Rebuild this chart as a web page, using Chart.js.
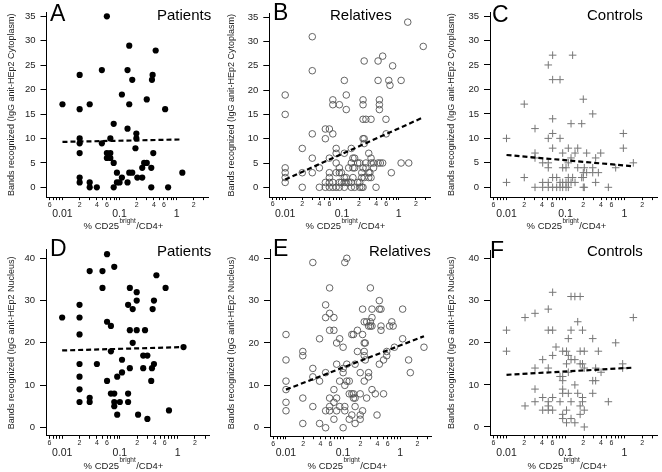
<!DOCTYPE html>
<html><head><meta charset="utf-8">
<script src="https://cdn.jsdelivr.net/npm/chart.js@4/dist/chart.umd.min.js"></script>
<style>
html,body{margin:0;padding:0;background:#fff;}
#wrap{position:relative;width:662px;height:472px;overflow:hidden;}
canvas{position:absolute;}
</style></head><body>
<div id="wrap">
<canvas id="cA" width="220" height="236" style="left:0;top:0"></canvas>
<canvas id="cB" width="220" height="236" style="left:220px;top:0"></canvas>
<canvas id="cC" width="222" height="236" style="left:440px;top:0"></canvas>
<canvas id="cD" width="220" height="236" style="left:0;top:236px"></canvas>
<canvas id="cE" width="220" height="236" style="left:220px;top:236px"></canvas>
<canvas id="cF" width="222" height="236" style="left:440px;top:236px"></canvas>
</div>
<script>
// ---------- DATA ----------
const patientsCytoplasm = [
 [0.01,17],[0.02,23],[0.02,16],[0.02,10],[0.02,9],[0.02,7],[0.02,2],[0.02,1],
 [0.03,17],[0.03,1],[0.03,0],[0.04,0],
 [0.049,24],[0.049,9],[0.06,35],[0.06,7],[0.06,6],[0.069,10],[0.069,7],[0.069,6],
 [0.079,13],[0.079,5],[0.079,0],[0.09,3],[0.09,1],[0.1,1],[0.11,19],[0.11,2],
 [0.138,24],[0.138,12],[0.138,1],[0.148,29],[0.148,17],[0.148,3],[0.167,22],[0.167,3],
 [0.197,11],[0.197,10],[0.19,8],[0.205,2],[0.25,4],[0.25,2],[0.27,5],[0.3,18],[0.3,5],
 [0.36,4],[0.36,0],[0.37,22],[0.38,23],[0.39,7],[0.43,28],[0.63,16],[0.71,0],[1.26,3]
];
const relativesCytoplasm = [
 [0.01,19],[0.01,15],[0.01,4],[0.01,3],[0.01,2],[0.01,1],
 [0.02,8],[0.02,3],[0.02,0],
 [0.03,31],[0.03,24],[0.03,11],[0.03,6],[0.03,3],
 [0.04,4],[0.04,0],
 [0.051,12],[0.051,10],[0.051,1],[0.051,0],
 [0.06,12],[0.06,6],[0.06,3],[0.06,2],[0.06,1],[0.06,0],
 [0.069,18],[0.069,17],[0.069,11],[0.069,1],[0.069,0],
 [0.079,8],[0.079,7],[0.079,5],[0.079,3],[0.079,0],
 [0.09,17],[0.09,4],[0.09,3],[0.09,1],[0.09,0],
 [0.098,1],[0.098,3],
 [0.11,22],[0.11,7],[0.11,2],[0.11,1],[0.11,0],
 [0.119,19],[0.119,16],[0.119,2],[0.119,1],
 [0.131,4],[0.131,1],
 [0.146,8],[0.146,5],[0.146,0],[0.146,1],
 [0.156,6],[0.156,4],[0.156,2],
 [0.167,6],[0.167,4],[0.167,0],
 [0.189,5],[0.189,1],
 [0.205,0],[0.205,1],[0.205,5],
 [0.223,0],[0.223,2],[0.223,3],
 [0.235,18],[0.235,17],[0.235,14],[0.235,10],[0.235,0],[0.235,4],
 [0.246,26],[0.246,10],[0.246,9],[0.246,2],
 [0.264,14],[0.264,4],[0.264,5],
 [0.296,7],[0.296,3],[0.296,2],
 [0.31,3],
 [0.325,14],[0.325,6],[0.325,2],[0.325,5],
 [0.36,5],[0.36,4],
 [0.398,0],
 [0.432,26],[0.432,22],[0.432,5],
 [0.456,18],[0.456,17],[0.456,16],
 [0.474,5],
 [0.521,27],[0.521,5],
 [0.595,14],[0.6,11],[0.667,22],[0.70,21],[0.74,3],[0.78,25],
 [1.10,22],[1.10,5],[1.44,34],[1.5,5],[2.7,29]
];
const controlsCytoplasm = [
 [0.01,10],[0.01,1],
 [0.020,17],[0.020,2],
 [0.0304,12],[0.0304,7],[0.0304,6],[0.0304,0],
 [0.041,5],[0.041,1],[0.041,0],
 [0.051,25],[0.051,10],[0.051,5],[0.051,4],[0.051,1],[0.051,0],
 [0.0605,27],[0.0605,22],[0.0605,14],[0.0605,11],[0.0605,8],[0.0605,2],[0.0605,0],
 [0.0708,2],[0.0708,0],
 [0.0807,22],[0.0807,10],[0.0807,1],[0.0807,0],
 [0.0895,7],[0.0895,4],[0.0895,1],[0.0895,0],
 [0.102,4],[0.102,1],[0.102,0],
 [0.1116,8],[0.1116,5],[0.1116,2],[0.1116,1],[0.1116,0],
 [0.124,13],[0.124,6],[0.124,1],
 [0.132,27],[0.132,2],
 [0.145,7],[0.145,1],
 [0.161,8],[0.161,4],
 [0.188,13],[0.188,2],
 [0.200,18],[0.200,2],[0.200,0],[0.200,3],
 [0.208,0],[0.208,4],
 [0.228,7],[0.228,3],
 [0.289,15],[0.289,4],[0.289,3],
 [0.324,6],[0.324,1],
 [0.360,3],[0.395,7],[0.532,0],[0.708,4],
 [0.955,11],[0.955,8],[1.41,5]
];
const patientsNucleus = [
 [0.01,26],
 [0.02,29],[0.02,26],[0.02,22],[0.02,15],[0.02,12],[0.02,9],[0.02,6],
 [0.03,37],[0.03,7],[0.03,6],
 [0.04,15],
 [0.05,37],[0.05,33],
 [0.06,41],[0.06,25],[0.06,11],
 [0.07,24],[0.07,18],[0.07,8],
 [0.08,38],[0.08,8],[0.08,6],[0.08,5],
 [0.09,12],[0.09,3],
 [0.1,6],
 [0.109,16],[0.109,13],
 [0.139,29],[0.139,8],[0.139,6],
 [0.149,33],[0.149,23],[0.149,14],
 [0.167,28],[0.167,20],
 [0.196,32],[0.196,30],[0.196,23],
 [0.207,3],
 [0.254,17],[0.254,14],
 [0.273,23],
 [0.30,17],[0.30,2],
 [0.35,11],[0.36,14],[0.37,28],[0.39,30],[0.39,15],
 [0.43,36],[0.62,33],[0.71,4],[1.27,19]
];
const relativesNucleus = [
 [0.01,22],[0.01,16],[0.01,11],[0.01,9],[0.01,6],[0.01,4],
 [0.0197,18],[0.0197,17],[0.0197,7],[0.0197,1],
 [0.0295,39],[0.0295,14],[0.0295,12],[0.0295,5],
 [0.0387,21],[0.0387,11],[0.0387,1],
 [0.0494,29],[0.0494,26],[0.0494,13],[0.0494,4],[0.0494,0],
 [0.058,33],[0.058,27],[0.058,23],[0.058,7],[0.058,5],[0.058,4],
 [0.069,26],[0.069,23],[0.069,9],[0.069,6],[0.069,2],
 [0.077,20],[0.077,15],[0.077,7],[0.077,4],
 [0.087,21],[0.087,11],[0.087,5],
 [0.1,19],[0.1,13],[0.1,0],[0.1,14],
 [0.107,39],[0.107,10],[0.107,5],[0.107,4],
 [0.116,40],[0.116,15],[0.116,11],
 [0.128,11],[0.128,8],[0.128,2],
 [0.142,22],[0.142,8],[0.142,3],
 [0.152,22],[0.152,7],[0.152,8],
 [0.162,15],[0.162,5],[0.162,1],[0.162,7],
 [0.178,23],[0.178,18],
 [0.199,13],[0.199,8],[0.199,2],[0.199,3],
 [0.219,22],[0.219,28],[0.219,4],
 [0.234,25],[0.234,20],[0.234,17],[0.234,11],[0.234,18],
 [0.244,20],[0.244,16],
 [0.258,7],[0.258,25],
 [0.279,24],[0.279,12],[0.279,13],
 [0.3,33],[0.3,25],[0.3,24],
 [0.32,28],[0.32,26],[0.32,24],[0.32,9],
 [0.366,8],[0.392,3],
 [0.43,30],[0.43,28],[0.43,15],
 [0.46,28],[0.46,23],[0.46,24],
 [0.51,16],[0.51,8],
 [0.58,17],[0.58,18],
 [0.65,24],[0.71,25],[0.75,24],[0.79,19],
 [1.1,28],[1.1,21],[1.4,16],[1.5,13],[2.6,19]
];
const controlsNucleus = [
 [0.01,23],[0.01,18],
 [0.0206,26],[0.0206,5],
 [0.0304,27],[0.0304,14],[0.0304,9],[0.0304,6],
 [0.041,16],[0.041,7],[0.041,4],
 [0.051,28],[0.051,23],[0.051,14],[0.051,6],[0.051,5],[0.051,4],
 [0.0605,32],[0.0605,23],[0.0605,17],[0.0605,7],[0.0605,4],
 [0.069,19],
 [0.0807,12],[0.0807,6],
 [0.0895,18],[0.0895,12],[0.0895,11],[0.0895,9],[0.0895,8],[0.0895,3],[0.0895,2],
 [0.104,18],[0.104,15],[0.104,4],[0.104,1],
 [0.1116,21],[0.1116,17],[0.1116,13],[0.1116,8],
 [0.124,31],[0.124,23],[0.124,16],[0.124,6],[0.124,2],
 [0.144,31],[0.144,16],[0.144,10],[0.144,1],
 [0.161,25],[0.161,8],
 [0.177,31],[0.177,18],[0.177,15],[0.177,5],[0.177,3],
 [0.194,23],[0.194,15],[0.194,6],[0.194,7],
 [0.208,18],[0.208,14],[0.208,0],[0.208,4],
 [0.289,21],[0.289,11],[0.289,8],
 [0.324,11],[0.324,14],
 [0.360,18],[0.40,13],[0.532,6],[0.708,20],
 [0.93,15],[0.93,14],[1.41,26]
];
// dashed regression lines (endpoints)
const trendA = [[0.01,9.3],[1.26,9.8]];
const trendB = [[0.01,1.6],[2.7,14.4]];
const trendC = [[0.01,6.6],[1.41,4.3]];
const trendD = [[0.01,18.2],[1.27,19.0]];
const trendE = [[0.01,9.0],[2.6,21.6]];
const trendF = [[0.01,12.4],[1.41,14.1]];

// ticks
const xTickValues = [0.006,0.007,0.008,0.009,0.01,0.02,0.03,0.04,0.05,0.06,0.07,0.08,0.09,
                     0.1,0.2,0.3,0.4,0.5,0.6,0.7,0.8,0.9,1,2,3];
const xTickLabels = ['6','','','','0.01','2','','4','','6','','','',
                     '0.1','2','','4','','6','','','','1','2',''];
const xMajorLabels = ['0.01','0.1','1'];
const yTicksCytoplasm = [0,5,10,15,20,25,30,35];
const yTicksNucleus = [0,10,20,30,40];
const yTitleCytoplasm = 'Bands recognized (IgG anit-HEp2 Cytoplasm)';
const yTitleNucleus = 'Bands recognized (IgG anit-HEp2 Nucleus)';
const xTitleParts = ['% CD25', 'bright', '/CD4+'];
const groupNames = ['Patients','Relatives','Controls'];
const panelLetters = ['A','B','C','D','E','F'];

// ---------- LAYOUT ----------
const FONT = '"Liberation Sans", Arial, Helvetica, sans-serif';
const X_MIN = 0.00525, X_MAX = 3.55;

const panels = [
 {id:'cA', w:220, h:236, area:{l:46.5,t:12.4,r:208,b:197.1}, ymax:35.8, data:patientsCytoplasm, trend:trendA, kind:0, yTicks:yTicksCytoplasm, yTitle:yTitleCytoplasm, letter:panelLetters[0], lx:50, ly:20.5, gx:157, gy:20, tx:123, ty:229},
 {id:'cB', w:220, h:236, area:{l:49.3,t:13.4,r:210,b:197}, ymax:35.8, data:relativesCytoplasm, trend:trendB, kind:1, yTicks:yTicksCytoplasm, yTitle:yTitleCytoplasm, letter:panelLetters[1], lx:53, ly:19.5, gx:110, gy:19.5, tx:125, ty:229},
 {id:'cC', w:222, h:236, area:{l:50,t:12.1,r:217,b:197.1}, ymax:35.8, data:controlsCytoplasm, trend:trendC, kind:2, yTicks:yTicksCytoplasm, yTitle:yTitleCytoplasm, letter:panelLetters[2], lx:52, ly:21.5, gx:147, gy:20, tx:126, ty:229},
 {id:'cD', w:220, h:236, area:{l:46,t:13.9,r:209.3,b:199.8}, ymax:42, data:patientsNucleus, trend:trendD, kind:0, yTicks:yTicksNucleus, yTitle:yTitleNucleus, letter:panelLetters[3], lx:50, ly:20, gx:157, gy:19.5, tx:123, ty:232.5},
 {id:'cE', w:220, h:236, area:{l:50,t:13.8,r:211.7,b:200.2}, ymax:42, data:relativesNucleus, trend:trendE, kind:1, yTicks:yTicksNucleus, yTitle:yTitleNucleus, letter:panelLetters[4], lx:53, ly:20, gx:149, gy:19.5, tx:127, ty:232.5},
 {id:'cF', w:222, h:236, area:{l:50,t:14.2,r:217,b:199.4}, ymax:42, data:controlsNucleus, trend:trendF, kind:2, yTicks:yTicksNucleus, yTitle:yTitleNucleus, letter:panelLetters[5], lx:50, ly:21.5, gx:147, gy:20, tx:127, ty:232.5}
];

const markerStyles = [
 {pointStyle:'circle', radius:3.1, backgroundColor:'#000', borderColor:'#000', borderWidth:0},
 {pointStyle:'circle', radius:3.3, backgroundColor:'rgba(0,0,0,0)', borderColor:'#555', borderWidth:0.9},
 {pointStyle:'cross', radius:3.8, backgroundColor:'#777', borderColor:'#777', borderWidth:1}
];

function textPlugin(p) {
  return {
    id: 'panelText_' + p.id,
    afterDraw(chart) {
      const ctx = chart.ctx;
      ctx.save();
      ctx.fillStyle = '#000';
      ctx.textBaseline = 'alphabetic';
      ctx.textAlign = 'left';
      ctx.font = '23px ' + FONT;
      ctx.fillText(p.letter, p.lx, p.ly);
      ctx.font = '15px ' + FONT;
      ctx.fillText(groupNames[p.kind], p.gx, p.gy);
      // x-axis title with superscript
      ctx.fillStyle = '#222';
      const f1 = '9.5px ' + FONT, f2 = '6.5px ' + FONT;
      ctx.font = f1;
      const wA = ctx.measureText(xTitleParts[0]).width;
      const wC = ctx.measureText(xTitleParts[2]).width;
      ctx.font = f2;
      const wB = ctx.measureText(xTitleParts[1]).width;
      let x = p.tx - (wA + wB + wC) / 2;
      ctx.font = f1; ctx.fillText(xTitleParts[0], x, p.ty); x += wA;
      ctx.font = f2; ctx.fillText(xTitleParts[1], x + 0.5, p.ty - 6.5); x += wB + 1;
      ctx.font = f1; ctx.fillText(xTitleParts[2], x, p.ty);
      ctx.restore();
    }
  };
}

panels.forEach(p => {
  const m = markerStyles[p.kind];
  new Chart(document.getElementById(p.id), {
    type: 'scatter',
    data: {
      datasets: [
        {
          data: p.trend.map(([x, y]) => ({x, y})),
          showLine: true, borderColor: '#000', borderWidth: 2.2, borderDash: [5, 3],
          pointRadius: 0, fill: false, order: 0
        },
        {
          data: p.data.map(([x, y]) => ({x, y})),
          pointStyle: m.pointStyle, pointRadius: m.radius,
          pointBackgroundColor: m.backgroundColor, pointBorderColor: m.borderColor,
          pointBorderWidth: m.borderWidth, showLine: false, order: 1
        }
      ]
    },
    options: {
      responsive: false, animation: false, devicePixelRatio: 1,
      layout: {padding: {top: p.area.t, right: p.w - p.area.r, left: 0, bottom: 0}},
      plugins: {legend: {display: false}, tooltip: {enabled: false}},
      scales: {
        x: {
          type: 'logarithmic', min: X_MIN, max: X_MAX, position: 'bottom',
          afterBuildTicks: s => { s.ticks = xTickValues.map(v => ({value: v, major: xMajorLabels.includes(String(v))})); },
          afterFit: s => { s.height = p.h - p.area.b; },
          grid: {display: true, drawOnChartArea: false, drawTicks: true, tickLength: 3, color: '#000', tickColor: '#000', lineWidth: 1},
          border: {display: true, color: '#000', width: 1},
          ticks: {
            autoSkip: false, maxRotation: 0, minRotation: 0, padding: 0, color: '#222',
            font: ctx => (ctx.tick && ctx.tick.major) ? {family: FONT, size: 10.5, lineHeight: '9.5px'} : {family: FONT, size: 7, lineHeight: '9px'},
            callback: (val, i) => {
              const lab = xTickLabels[i];
              return xMajorLabels.includes(lab) ? ['', lab] : lab;
            }
          }
        },
        y: {
          type: 'linear', min: -2, max: p.ymax,
          afterBuildTicks: s => { s.ticks = p.yTicks.map(v => ({value: v})); },
          afterFit: s => { s.width = p.area.l; },
          grid: {display: true, drawOnChartArea: false, tickLength: 6, color: '#000', tickColor: '#000'},
          border: {display: true, color: '#000', width: 1},
          ticks: {padding: 5, color: '#222', font: {family: FONT, size: 9.5}},
          title: {display: true, text: p.yTitle, color: '#222', font: {family: FONT, size: 9}, padding: {top: 6, bottom: 0}}
        }
      }
    },
    plugins: [textPlugin(p)]
  });
});
</script>
</body></html>
